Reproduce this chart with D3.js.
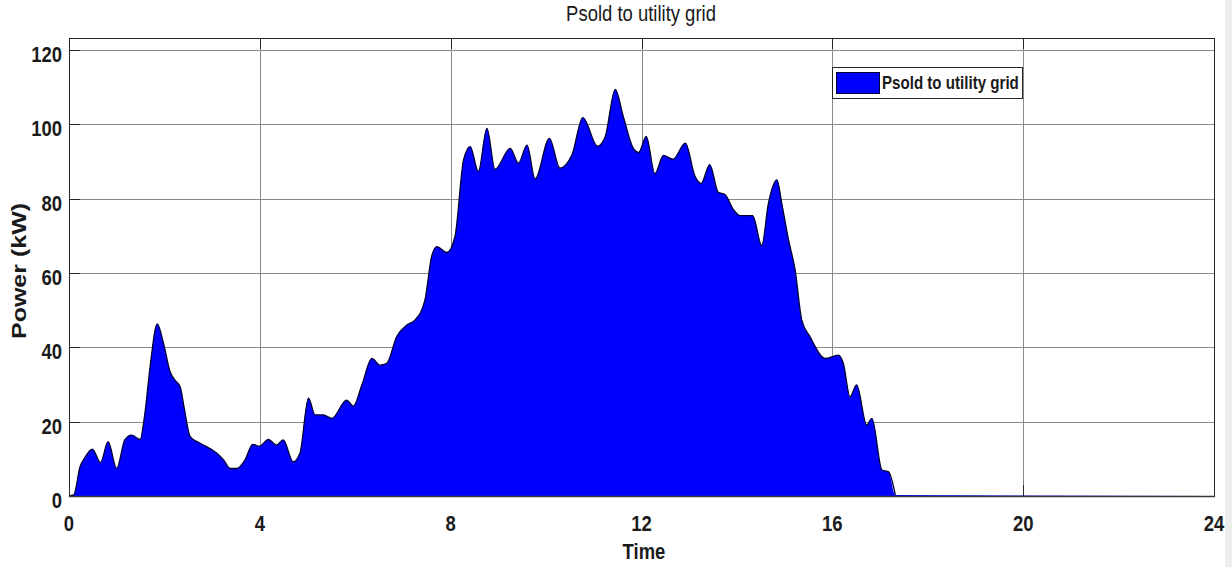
<!DOCTYPE html>
<html>
<head>
<meta charset="utf-8">
<script src="https://cdn.jsdelivr.net/npm/d3@7"></script>
<style>
  html, body { margin: 0; padding: 0; background: #ffffff; }
  svg { display: block; }
  text { font-family: "Liberation Sans", Arial, sans-serif; fill: #1a1a1a; }
</style>
</head>
<body>
<svg id="chart" width="1232" height="567"></svg>
<script>
// Power sold to the utility grid over one day (hours, kW)
const timeHours = [0, 0.1, 0.23, 0.34, 0.49, 0.66, 0.82, 1.0, 1.17, 1.31, 1.49, 1.59, 1.70, 1.85, 1.98,
  2.12, 2.22, 2.33, 2.41, 2.54, 2.75, 3.10, 3.24, 3.38, 3.52, 3.69, 3.85, 3.99, 4.18, 4.35, 4.49,
  4.70, 4.84, 5.02, 5.16, 5.33, 5.51, 5.82, 5.96, 6.14, 6.35, 6.52, 6.66, 6.87, 7.08, 7.25, 7.46,
  7.60, 7.71, 7.92, 8.09, 8.27, 8.41, 8.58, 8.76, 8.93, 9.25, 9.42, 9.60, 9.77, 10.07, 10.29, 10.54,
  10.77, 11.08, 11.24, 11.45, 11.62, 11.83, 11.94, 12.10, 12.28, 12.46, 12.66, 12.92, 13.12, 13.25,
  13.43, 13.61, 13.75, 13.93, 14.07, 14.33, 14.52, 14.66, 14.84, 14.94, 15.08, 15.22, 15.36, 15.53,
  15.85, 16.13, 16.23, 16.37, 16.51, 16.72, 16.83, 17.04, 17.18, 17.32, 24];

const psoldKW = [0, 0.3, 7.8, 10.5, 12.6, 9.0, 14.6, 7.4, 15.1, 16.4, 15.2, 22.2, 34.8, 46.3, 41.1,
  33.4, 31.2, 29.4, 24.0, 16.0, 14.2, 11.5, 9.7, 7.4, 7.4, 9.7, 13.9, 13.4, 15.2, 13.7, 15.1,
  9.2, 11.5, 26.3, 21.8, 21.8, 20.9, 25.8, 24.2, 29.9, 37.0, 35.2, 35.7, 42.9, 46.0, 47.3, 52.7,
  64.4, 67.1, 65.5, 69.8, 90.4, 94.0, 87.3, 98.9, 87.9, 93.5, 89.5, 94.4, 85.3, 96.2, 88.2, 91.7,
  101.8, 94.1, 96.7, 109.4, 102.0, 93.5, 92.4, 96.7, 86.7, 91.6, 90.6, 94.9, 86.1, 84.1,
  89.1, 81.7, 81.1, 77.0, 75.4, 75.4, 67.4, 78.7, 85.0, 78.7, 69.0, 60.8, 47.3, 42.9,
  37.0, 37.9, 35.7, 26.7, 29.9, 19.1, 20.9, 7.0, 6.5, 0.3, 0];

const xTicks = [0, 4, 8, 12, 16, 20, 24];
const yTicks = [0, 20, 40, 60, 80, 100, 120];

const titleText = "Psold to utility grid";
const legendText = "Psold to utility grid";
const xLabel = "Time";
const yLabel = "Power (kW)";

const svg = d3.select("#chart");
const plot = { left: 69, right: 1214, top: 38, bottom: 496 };
const squeeze = 0.84; // horizontal compression of all lettering

const x = d3.scaleLinear().domain([0, 24]).range([plot.left, plot.right]);
const y = d3.scaleLinear().domain([0, 123.2]).range([plot.bottom, plot.top]);

const series = timeHours.map((t, i) => ({ t, v: psoldKW[i] }));

// light strip at the far right edge
svg.append("rect").attr("x", 1225).attr("y", 0).attr("width", 7).attr("height", 567).attr("fill", "#eeeeee");

// plot background
svg.append("rect")
  .attr("x", plot.left).attr("y", plot.top)
  .attr("width", plot.right - plot.left).attr("height", plot.bottom - plot.top)
  .attr("fill", "#ffffff");

// grid lines
const grid = svg.append("g").attr("stroke", "#8a8a8a").attr("stroke-width", 1);
xTicks.forEach(t => {
  grid.append("line")
    .attr("x1", Math.round(x(t)) + 0.5).attr("x2", Math.round(x(t)) + 0.5)
    .attr("y1", plot.top).attr("y2", plot.bottom);
});
yTicks.forEach(t => {
  grid.append("line")
    .attr("x1", plot.left).attr("x2", plot.right)
    .attr("y1", Math.round(y(t)) + 0.5).attr("y2", Math.round(y(t)) + 0.5);
});

// inward tick marks
const ticks = svg.append("g").attr("stroke", "#262626").attr("stroke-width", 1);
yTicks.forEach(t => {
  const yy = Math.round(y(t)) + 0.5;
  ticks.append("line").attr("x1", plot.left).attr("x2", plot.left + 11).attr("y1", yy).attr("y2", yy);
});
xTicks.forEach(t => {
  const xx = Math.round(x(t)) + 0.5;
  ticks.append("line").attr("x1", xx).attr("x2", xx).attr("y1", plot.bottom).attr("y2", plot.bottom - 11);
  ticks.append("line").attr("x1", xx).attr("x2", xx).attr("y1", plot.top).attr("y2", plot.top + 11);
});

// filled area
const area = d3.area()
  .x(d => x(d.t))
  .y0(y(0))
  .y1(d => y(d.v))
  .curve(d3.curveMonotoneX);
const line = d3.line()
  .x(d => x(d.t))
  .y(d => y(d.v))
  .curve(d3.curveMonotoneX);

svg.append("path").datum(series)
  .attr("d", area)
  .attr("fill", "#0000ff");
svg.append("path").datum(series.filter(d => d.t <= 17.4))
  .attr("d", line)
  .attr("fill", "none")
  .attr("stroke", "#000033")
  .attr("stroke-width", 1.3);

// axes box
svg.append("rect")
  .attr("x", plot.left + 0.5).attr("y", plot.top + 0.5)
  .attr("width", plot.right - plot.left).attr("height", plot.bottom - plot.top)
  .attr("fill", "none").attr("stroke", "#262626").attr("stroke-width", 1);
svg.append("line")
  .attr("x1", plot.left).attr("x2", plot.right + 1)
  .attr("y1", plot.bottom + 0.5).attr("y2", plot.bottom + 0.5)
  .attr("stroke", "#3a3a3a").attr("stroke-width", 1.6);

// helper: text squeezed horizontally
function label(g, str, px, py, opts) {
  return g.append("text")
    .attr("transform", `translate(${px},${py}) scale(${squeeze},1)`)
    .attr("text-anchor", opts.anchor || "middle")
    .attr("font-size", opts.size)
    .attr("font-weight", opts.weight || "bold")
    .text(str);
}

const labels = svg.append("g");
xTicks.forEach(t => label(labels, String(t), x(t), 531, { size: 22 }));
yTicks.forEach(t => label(labels, String(t), 62, y(t) + 12, { size: 22, anchor: "end" }));

label(labels, titleText, 641, 21, { size: 22, weight: "normal" });
label(labels, xLabel, 644, 559, { size: 22 });

// rotated y-axis title
svg.append("text")
  .attr("transform", `translate(26,271) scale(${squeeze},1) rotate(-90)`)
  .attr("text-anchor", "middle")
  .attr("font-size", 25)
  .attr("font-weight", "bold")
  .text(yLabel);

// legend
const legend = svg.append("g");
legend.append("rect")
  .attr("x", 832.5).attr("y", 67.5).attr("width", 190).attr("height", 31)
  .attr("fill", "#ffffff").attr("stroke", "#262626").attr("stroke-width", 1);
legend.append("rect")
  .attr("x", 836.5).attr("y", 72.5).attr("width", 43).attr("height", 21)
  .attr("fill", "#0000ff").attr("stroke", "#000033").attr("stroke-width", 1);
label(legend, legendText, 882, 89, { size: 18, anchor: "start" });
</script>
</body>
</html>
